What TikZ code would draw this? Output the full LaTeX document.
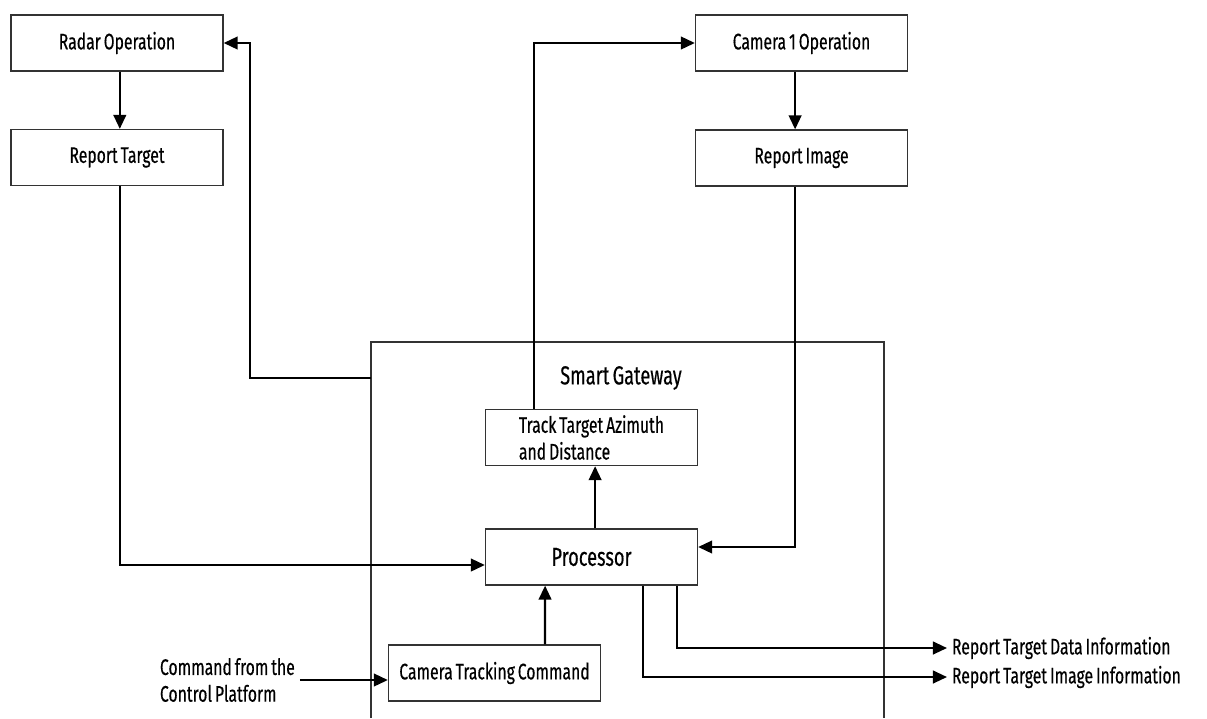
\documentclass[tikz,border=0pt]{standalone}
\usepackage{fontspec}
\setmainfont[FakeStretch=0.7,WordSpace=0.7,FakeBold=0.4]{Fira Sans}
\usetikzlibrary{arrows.meta}

\begin{document}
\begin{tikzpicture}[x=0.025cm,y=-0.025cm,
    every node/.style={font=\fontsize{16}{19}\selectfont},
    big/.style={font=\fontsize{18.5}{22}\selectfont},
    box/.style={draw=black!80,line width=0.9pt,minimum width=5.3cm,minimum height=1.4cm,inner sep=0pt,align=center},
    flow/.style={line width=1.6pt,-{Triangle[length=10pt,width=9pt]}}]
    \useasboundingbox (0,0) rectangle (1207,718);
    \draw[draw=black!80,line width=0.9pt] (371,718) |- (884,342) -- (884,718);
    \node[box] (radar) at (117,43) {Radar Operation};
    \node[box] (rtarget) at (117,157.5) {Report Target};
    \node[box] (cam) at (801.5,43) {Camera 1 Operation};
    \node[box] (rimage) at (801.5,158) {Report Image};
    \node[big] (gwlabel) at (621,378) {Smart Gateway};
    \node[box,align=left] (track) at (591.5,437.5) {Track Target Azimuth\\and Distance};
    \node[box,big] (proc) at (591.5,557) {Processor};
    \node[box] (ctc) at (494.5,673) {Camera Tracking Command};
    \node[anchor=west,align=left] (cmd) at (155,680) {Command from the\\Control Platform};
    \node[anchor=west] (outdata) at (947,648) {Report Target Data Information};
    \node[anchor=west] (outimage) at (947,677) {Report Target Image Information};
    \coordinate (gw) at (371,378);
    \draw[flow] ([xshift=0.07cm]radar.south) -- ([xshift=0.07cm]rtarget.north);
    \draw[flow] ([xshift=-0.16cm]cam.south) -- ([xshift=-0.16cm]rimage.north);
    \draw[flow] ([xshift=0.07cm]rtarget.south) |- ([yshift=-0.2cm]proc.west);
    \draw[flow] ([xshift=-0.16cm]rimage.south) |- ([yshift=0.25cm]proc.east);
    \draw[flow] (gw) -| ([xshift=0.65cm]radar.east) -- (radar.east);
    \draw[flow] ([xshift=-1.44cm]track.north) |- (cam.west);
    \draw[flow] ([xshift=0.09cm]proc.north) -- ([xshift=0.09cm]track.south);
    \draw[flow] ([xshift=1.26cm]ctc.north) -- ([xshift=-1.16cm]proc.south);
    \draw[flow] (cmd.east) -- (cmd.east -| ctc.west);
    \draw[flow] ([xshift=2.14cm]proc.south) |- (outdata.west);
    \draw[flow] ([xshift=1.29cm]proc.south) |- (outimage.west);
\end{tikzpicture}
\end{document}
